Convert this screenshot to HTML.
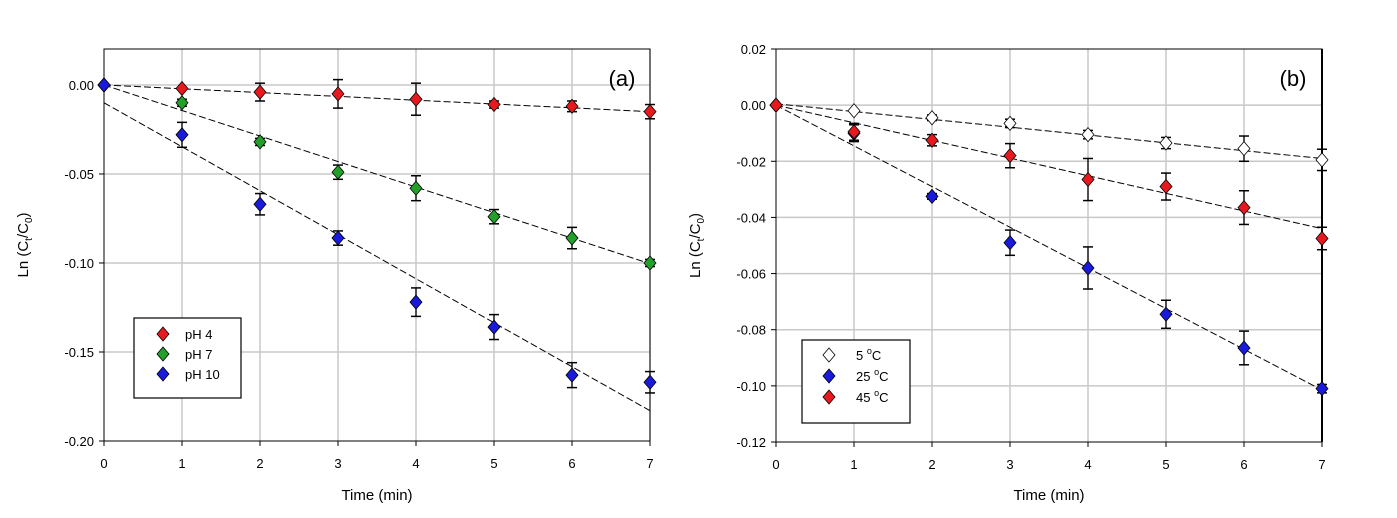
<!DOCTYPE html>
<html><head><meta charset="utf-8"><style>
body{margin:0;background:#fff}
svg{display:block;font-family:"Liberation Sans",Arial,sans-serif}
</style></head><body>
<svg id="s" width="1397" height="518" viewBox="0 0 1397 518" xmlns="http://www.w3.org/2000/svg"></svg>
<script>
var s=document.getElementById('s'),h='';
function dia(x,y,c){return '<polygon points="'+x+','+(y-7)+' '+(x+6)+','+y+' '+x+','+(y+7)+' '+(x-6)+','+y+'" fill="'+c+'" stroke="#000" stroke-width="0.8"/>';}
function plot(o){
 var X=function(v){return o.x0+(o.x1-o.x0)*v/7;};
 var Y=function(v){return o.yTop+(o.ymax-v)/(o.ymax-o.ymin)*(o.yBot-o.yTop);};
 for(var i=1;i<=7;i++)h+='<line x1="'+X(i)+'" y1="'+o.yTop+'" x2="'+X(i)+'" y2="'+o.yBot+'" stroke="#c8c8c8" stroke-width="1.5"/>';
 o.yt.forEach(function(t){ if(t!==o.ymin&&t!==o.ymax)h+='<line x1="'+o.x0+'" y1="'+Y(t)+'" x2="'+o.x1+'" y2="'+Y(t)+'" stroke="#c8c8c8" stroke-width="1.5"/>';});
 h+='<rect x="'+o.x0+'" y="'+o.yTop+'" width="'+(o.x1-o.x0)+'" height="'+(o.yBot-o.yTop)+'" fill="none" stroke="#000" stroke-width="1"/>';
 if(o.bold)h+='<line x1="'+o.x1+'" y1="'+o.yTop+'" x2="'+o.x1+'" y2="'+o.yBot+'" stroke="#000" stroke-width="2"/>';
 for(var i=0;i<=7;i++){h+='<line x1="'+X(i)+'" y1="'+o.yBot+'" x2="'+X(i)+'" y2="'+(o.yBot+5)+'" stroke="#000"/>';
  h+='<text x="'+X(i)+'" y="'+(o.yBot+27)+'" font-size="13" text-anchor="middle">'+i+'</text>';}
 o.yt.forEach(function(t){h+='<line x1="'+(o.x0-5)+'" y1="'+Y(t)+'" x2="'+o.x0+'" y2="'+Y(t)+'" stroke="#000"/>';
  h+='<text x="'+(o.x0-10)+'" y="'+(Y(t)+5)+'" font-size="13" text-anchor="end">'+t.toFixed(o.dec)+'</text>';});
 h+='<text x="'+((o.x0+o.x1)/2)+'" y="500" font-size="15" text-anchor="middle">Time (min)</text>';
 var cy=(o.yTop+o.yBot)/2;
 h+='<text transform="translate('+(o.x0-76)+','+cy+') rotate(-90)" font-size="15" text-anchor="middle">Ln (C<tspan font-size="10" dy="4">t</tspan><tspan dy="-4">/C</tspan><tspan font-size="10" dy="4">0</tspan><tspan dy="-4">)</tspan></text>';
 h+='<text x="'+o.lab[0]+'" y="'+o.lab[1]+'" font-size="22" text-anchor="middle">'+o.lab[2]+'</text>';
 o.ser.forEach(function(sr){h+='<line x1="'+X(0)+'" y1="'+Y(sr.l[0])+'" x2="'+X(7)+'" y2="'+Y(sr.l[1])+'" stroke="#000" stroke-width="1" stroke-dasharray="7,3"/>';});
 o.ser.forEach(function(sr){sr.d.forEach(function(p,i){var e=p[1];if(e>0){var x=X(i);
  h+='<line x1="'+x+'" y1="'+Y(p[0]+e)+'" x2="'+x+'" y2="'+Y(p[0]-e)+'" stroke="#000" stroke-width="1.3"/>';
  h+='<line x1="'+(x-5)+'" y1="'+Y(p[0]+e)+'" x2="'+(x+5)+'" y2="'+Y(p[0]+e)+'" stroke="#000" stroke-width="1.5"/>';
  h+='<line x1="'+(x-5)+'" y1="'+Y(p[0]-e)+'" x2="'+(x+5)+'" y2="'+Y(p[0]-e)+'" stroke="#000" stroke-width="1.5"/>';}});});
 o.ser.forEach(function(sr){sr.d.forEach(function(p,i){h+=dia(X(i),Y(p[0]),sr.c);});});
 var L=o.leg;h+='<rect x="'+L[0]+'" y="'+L[1]+'" width="'+L[2]+'" height="'+L[3]+'" fill="#fff" stroke="#000" stroke-width="1.2"/>';
 o.ser.forEach(function(sr,i){var x=L[0]+L[4],y=L[1]+L[5]+i*L[6];
  h+=dia(x,y,sr.c);
  h+='<text x="'+(x+L[7])+'" y="'+(y+5)+'" font-size="13">'+sr.n+'</text>';});
}
plot({x0:104,x1:650,yTop:49,yBot:441,ymax:0.0202,ymin:-0.2,yt:[0,-0.05,-0.1,-0.15,-0.2],dec:2,lab:[622,86,'(a)'],
 leg:[134,318,107,80,29,16,20,22],
 ser:[
 {n:'pH 4',c:'#e8191e',l:[0,-0.015],d:[[0,0],[-0.002,0],[-0.004,0.005],[-0.005,0.008],[-0.008,0.009],[-0.011,0.002],[-0.012,0.003],[-0.015,0.004]]},
 {n:'pH 7',c:'#22a02a',l:[0,-0.1004],d:[[0,0],[-0.010,0.002],[-0.032,0.002],[-0.049,0.004],[-0.058,0.007],[-0.074,0.004],[-0.086,0.006],[-0.100,0.002]]},
 {n:'pH 10',c:'#1a1adc',l:[-0.010,-0.183],d:[[0,0],[-0.028,0.007],[-0.067,0.006],[-0.086,0.004],[-0.122,0.008],[-0.136,0.007],[-0.163,0.007],[-0.167,0.006]]}]});
plot({x0:776,x1:1322,yTop:49,yBot:442,ymax:0.02,ymin:-0.12,yt:[0.02,0,-0.02,-0.04,-0.06,-0.08,-0.1,-0.12],dec:2,lab:[1293,86,'(b)'],bold:true,
 leg:[802,340,108,83,27,15,21,27],
 ser:[
 {n:'5 <tspan font-size="9" dy="-6">o</tspan><tspan dy="6">C</tspan>',c:'#fff',l:[0.0005,-0.019],d:[[0,0],[-0.002,0],[-0.0045,0.001],[-0.0065,0.0015],[-0.0105,0.0015],[-0.0135,0.002],[-0.0155,0.0045],[-0.0195,0.0038]]},
 {n:'25 <tspan font-size="9" dy="-6">o</tspan><tspan dy="6">C</tspan>',c:'#1a1adc',l:[0,-0.1015],d:[[0,0],[-0.010,0.003],[-0.0325,0.001],[-0.049,0.0045],[-0.058,0.0075],[-0.0745,0.005],[-0.0865,0.006],[-0.101,0.0015]]},
 {n:'45 <tspan font-size="9" dy="-6">o</tspan><tspan dy="6">C</tspan>',c:'#e8191e',l:[0,-0.044],d:[[0,0],[-0.0095,0.003],[-0.0125,0.002],[-0.018,0.0043],[-0.0265,0.0075],[-0.029,0.0048],[-0.0365,0.006],[-0.0475,0.004]]}]});
s.innerHTML=h;
</script>
</body></html>
